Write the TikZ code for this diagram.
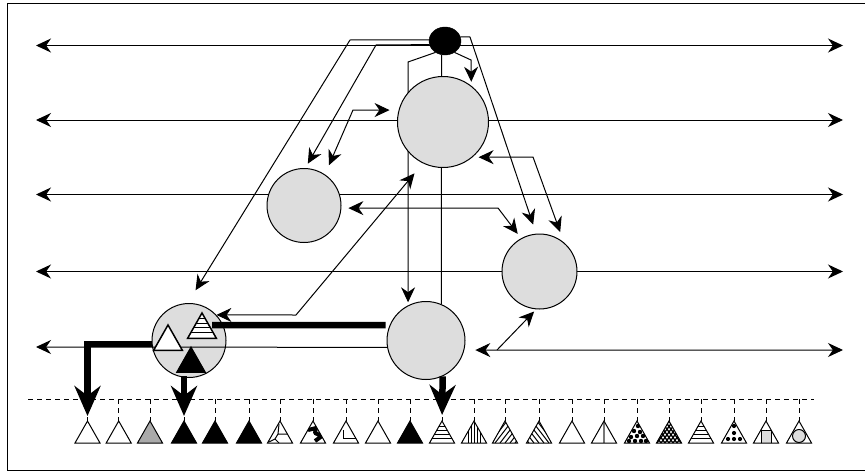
\documentclass[tikz,border=0pt]{standalone}
\usepackage{tikz}
\usetikzlibrary{arrows.meta, shapes.geometric, backgrounds}
\tikzset{
    >={Stealth[length=15pt,width=14pt]},
    hub/.style={circle, draw, fill=hubgray, line width=1pt, inner sep=0pt},
    wire/.style={line width=1pt},
    heavy/.style={line width=6.5pt, -{Stealth[length=30pt,width=26pt]}},
    dashline/.style={line width=1pt, dash pattern=on 5pt off 4pt},
}
\definecolor{hubgray}{HTML}{DDDDDD}
\definecolor{leafgray}{HTML}{AAAAAA}
\newcommand{\leaf}[4][]{
    \begin{scope}[shift={(#2)}, line width=1pt, #1]
        \fill[#3] (0,0) -- (12.5,22) -- (-12.5,22) -- cycle;
        \begin{scope}
            \clip (0,0) -- (12.5,22) -- (-12.5,22) -- cycle;
            #4
        \end{scope}
        \draw (0,0) -- (12.5,22) -- (-12.5,22) -- cycle;
    \end{scope}
}
\newcommand{\hstripes}{\foreach \y in {5,9,13,17} \draw[line width=1pt] (-13,\y) -- (13,\y);}
\begin{document}
\begin{tikzpicture}[x=1pt,y=-1pt]
            \useasboundingbox (0,0) rectangle (865,471);
            \draw[wire] (865,3) -- (7,3) -- (7,470) -- (865,470);
            \node[ellipse, fill=black, draw, minimum width=32pt, minimum height=28pt, inner sep=0pt] (root) at (445,41) {};
            \node[hub, minimum size=91pt] (upper) at (443,122) {};
            \node[hub, minimum size=74pt] (leftc) at (304,205.5) {};
            \node[hub, minimum size=75pt] (rightc) at (539.5,271.5) {};
            \node[hub, minimum size=78pt] (lowerc) at (426,340.5) {};
            \node[hub, minimum size=74pt] (leafc) at (189,340.5) {};
            \foreach \i/\xx in {1/87.5,2/118.7,3/150,4/184,5/215,6/249,7/280,8/313,9/346,10/378,11/410,12/442,
                13/474,14/505,15/539,16/572,17/604,18/637,19/669,20/701,21/734,22/766,23/799}
                \coordinate (t\i) at (\xx,421);
            \foreach \r/\y in {1/45.5,2/120,3/194.5,4/271.5,5/347,6/350} {
                \coordinate (l\r) at (36,\y);
                \coordinate (r\r) at (843,\y);
            }
            \coordinate (dashl) at (28,399);
            \coordinate (dashr) at (814,399);
            \coordinate (fork) at (497,350);
            \coordinate (barend) at (212,325);
            \coordinate (hatchtop) at (202,313);
            \coordinate (whitetop) at (168,325);
            \coordinate (blacktop) at (191,347);
            \begin{scope}[on background layer]
                \foreach \r in {1,2,3,4}
                    \draw[wire,<->] (l\r) -- (r\r);
                \draw[wire,->,shorten >=3pt] (root.230) -- (408,62) -- (lowerc.117);
                \draw[wire] (root.256) -- (lowerc.67);
            \end{scope}
            \draw[wire,<-] (l5) -- (lowerc.-170);
            \draw[wire,<->,shorten <=11pt] (lowerc.-14) -- (r6);
            \draw[wire,->,shorten >=3pt] (fork) -- (rightc.-95);
            \draw[wire,->,shorten >=15pt] (root.176) -- (350,40) -- (leafc.92);
            \draw[wire,->,shorten >=5pt] (root.193) -- (376,45) -- (leftc.88);
            \draw[wire,<->,shorten <=10pt,shorten >=9pt] (leftc.56) -- (353,110) -- (upper.165);
            \draw[wire,->,shorten >=4pt] (root.-50) -- (471,60) -- (upper.52);
            \draw[wire,->,shorten >=9.5pt] (root.15) -- (470,37) -- (rightc.95);
            \draw[wire,<->,shorten <=6pt,shorten >=11pt] (upper.-50) -- (533,157) -- (rightc.50);
            \draw[wire,<->,shorten <=7pt,shorten >=5.5pt] (leftc.-4) -- (498,208) -- (rightc.119);
            \draw[wire,<->,shorten >=13pt] (leafc.43.6) -- (296,315) -- (upper.-116);
            \draw[dashline] (dashl) -- (dashr);
            \foreach \i in {1,...,23}
                \draw[dashline] (t\i |- dashl) -- (t\i);
            \draw[line width=6.5pt,shorten <=4pt] (lowerc.157) -- (barend);
            \draw[heavy,shorten >=5pt] (leafc.-175) -- (leafc.-175 -| t1) -- (t1);
            \draw[heavy,shorten >=6pt] (lowerc.-65) -- (t12);
            \leaf{t1}{white}{}
            \leaf{t2}{white}{}
            \leaf{t3}{leafgray}{}
            \leaf{t4}{black}{}
            \leaf{t5}{black}{}
            \leaf{t6}{black}{}
            \leaf{t7}{white}{\draw (-1,3) -- (-2,13) -- (7,13); \draw (-2,13) -- (-5,18) -- (-11,21); \draw (-5,18) -- (-1,22);}
            \leaf{t8}{white}{\draw[line width=4pt,line join=round] (-5,9) -- (3,7) -- (2,12) -- (9,15) -- (2,20);}
            \leaf{t9}{white}{\draw (-2.5,9) -- (-2.5,17.5) -- (9.5,17.5);}
            \leaf{t10}{white}{}
            \leaf{t11}{black}{}
            \leaf{t12}{white}{\hstripes}
            \leaf{t13}{white}{\foreach \d in {-6,-3,0,3,6} \draw (\d,0) -- (\d,22);}
            \leaf{t14}{white}{\foreach \d in {-30,-25,...,10} \draw (\d,22) -- ++(17,-22);}
            \leaf{t15}{white}{\foreach \d in {-10,-5,...,30} \draw (\d,22) -- ++(-17,-22);}
            \leaf{t16}{white}{}
            \leaf{t17}{white}{\draw[leafgray!70!black,line width=1.5pt] (0,0) -- (0,22);}
            \leaf{t18}{white}{\foreach \p in {{1,5},{-3,10},{3,11},{-6,16},{0,15},{6,15},{-8,20},{-2,20},{4,20},{9,20}} \fill (\p) circle (2.2);}
            \leaf{t19}{white}{\foreach \d in {-28,-24,...,12} {\draw[line width=1.3pt] (\d,22) -- ++(16,-22); \draw[line width=1.3pt] (-\d,22) -- ++(-16,-22);}}
            \leaf{t20}{white}{\hstripes}
            \leaf{t21}{white}{\foreach \p in {{0,5},{0,12},{-6,18},{0,18},{6,18}} \fill (\p) circle (2.1);}
            \leaf{t22}{white}{\filldraw[fill=hubgray] (-5,9.5) rectangle (5,23);}
            \leaf{t23}{white}{\filldraw[fill=hubgray] (0,15) circle (6.5);}
            \leaf[scale=1.15,line width=1.5pt]{whitetop}{white}{}
            \leaf[scale=1.15,line width=1.5pt]{hatchtop}{white}{\hstripes}
            \leaf[scale=1.15]{blacktop}{black}{}
            \draw[heavy,shorten <=-2pt,shorten >=5pt] (t4 |- leafc.south) -- (t4);
        \end{tikzpicture}
\end{document}
